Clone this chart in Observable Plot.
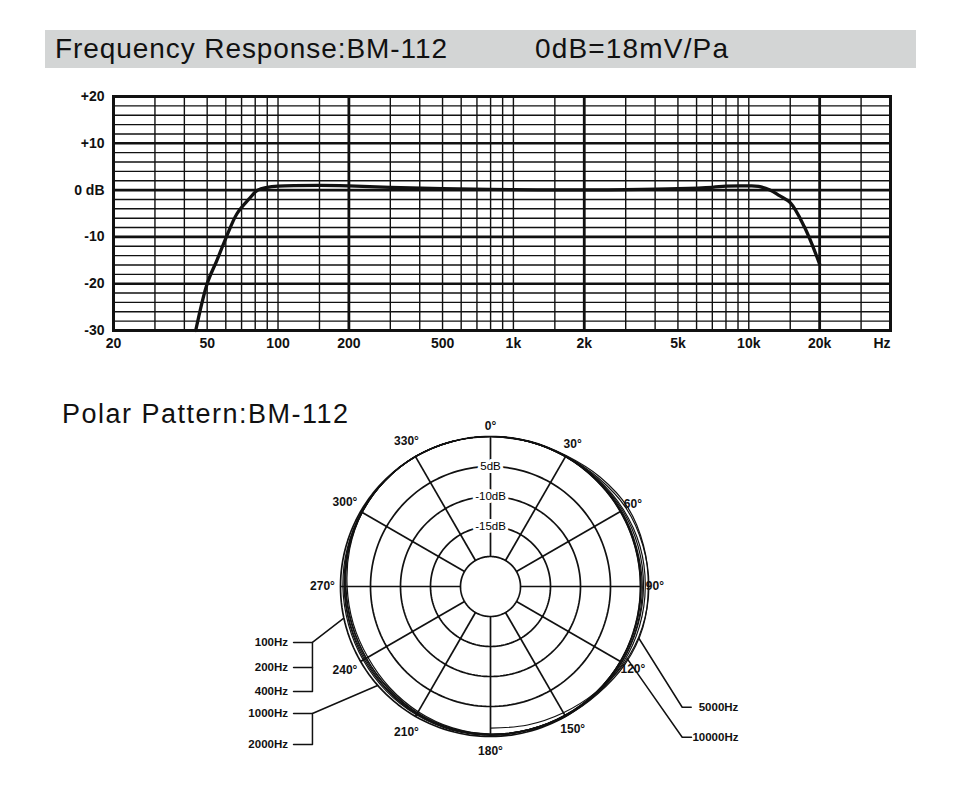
<!DOCTYPE html>
<html><head><meta charset="utf-8">
<script src="https://cdn.jsdelivr.net/npm/d3@7"></script>
<script src="https://cdn.jsdelivr.net/npm/@observablehq/plot@0.6"></script>
<style>
body{margin:0;background:#fff;width:964px;height:789px;position:relative;overflow:hidden;font-family:"Liberation Sans",Arial,sans-serif;}
#bar{position:absolute;left:45px;top:30px;width:871px;height:38px;background:#d3d5d5;}
.title{position:absolute;white-space:nowrap;font-size:28px;line-height:28px;color:#111;z-index:5;}
#freq{position:absolute;left:0;top:80px;width:964px;height:280px;}
#polar{position:absolute;left:200px;top:400px;width:560px;height:370px;}
</style>
</head><body>
<div id="bar"></div>
<div id="freq"></div>
<div id="polar"></div>
<div class="title" style="left:55px;top:35px" data-w="392">Frequency Response:BM-112</div>
<div class="title" style="left:535px;top:35px" data-w="193">0dB=18mV/Pa</div>
<div class="title" style="left:62px;top:400px;font-size:27px" data-w="286">Polar Pattern:BM-112</div>
<script>
// ---------- Frequency response data ----------
const responseHz = [44.7, 50, 55, 60, 67, 75, 82, 90, 100, 150, 200, 300, 500, 1000, 2000, 3000, 5000, 7000, 8000, 10000, 11000, 12300, 13500, 15000, 17200, 20000];
const responseDb = [-30, -20, -15, -10.3, -5, -2, 0, 0.6, 0.85, 1.0, 0.9, 0.6, 0.3, 0.1, 0.05, 0.1, 0.3, 0.6, 0.85, 0.9, 0.8, 0, -1.2, -2.7, -7.8, -15.8];

const xTicks = [20, 50, 100, 200, 500, 1000, 2000, 5000, 10000, 20000];
const xTickLabels = ["20", "50", "100", "200", "500", "1k", "2k", "5k", "10k", "20k"];
const yTicks = [-30, -20, -10, 0, 10, 20];
const yTickLabels = ["-30", "-20", "-10", "0 dB", "+10", "+20"];
const freqGridMinor = [30, 40, 50, 60, 70, 80, 90, 100, 150, 300, 400, 500, 600, 700, 800, 900, 1000, 1500, 3000, 4000, 5000, 6000, 7000, 8000, 9000, 10000, 15000, 30000];
const freqGridMajor = [200, 2000, 20000];
const dbGridMinor = [-28, -26, -24, -22, -18, -16, -14, -12, -8, -6, -4, -2, 2, 4, 6, 8, 12, 14, 16, 18];
const dbGridMajor = [-20, -10, 0, 10];

// ---------- Polar pattern data ----------
const polarAngles = [0, 15, 30, 45, 60, 75, 90, 105, 120, 135, 150, 165, 180, 195, 210, 225, 240, 255, 270, 285, 300, 315, 330, 345];
const polar100Hz  = [0, 0, 0, 0, 0, 0, 0, 0, 0, -0.1, -0.2, -0.2, -0.2, -0.2, -0.3, -0.4, -0.5, -0.5, -0.4, -0.3, -0.2, -0.1, 0, 0];
const polar200Hz  = [0, 0, 0, 0, 0.1, 0.1, 0.1, 0.1, 0, -0.1, -0.2, -0.3, -0.3, -0.3, -0.4, -0.6, -0.7, -0.7, -0.6, -0.4, -0.2, -0.1, 0, 0];
const polar400Hz  = [0, 0, 0, 0.1, 0.2, 0.2, 0.3, 0.3, 0.2, 0, -0.2, -0.3, -0.3, -0.4, -0.5, -0.7, -0.9, -0.8, -0.7, -0.5, -0.3, -0.1, 0, 0];
const polar1000Hz = [0, 0, 0, 0.2, 0.4, 0.5, 0.5, 0.4, 0.3, 0.1, -0.1, -0.3, -0.4, -0.5, -0.7, -1.0, -1.1, -1.1, -0.9, -0.6, -0.3, -0.1, 0, 0];
const polar2000Hz = [0, 0, 0.1, 0.3, 0.6, 0.8, 0.8, 0.7, 0.5, 0.2, -0.1, -0.3, -0.4, -0.6, -0.9, -1.2, -1.4, -1.3, -1.1, -0.7, -0.3, -0.1, 0, 0];
const polar5000Hz = [0, 0.1, 0.2, 0.8, 1.4, 1.4, 1.3, 1.3, 0.9, 0.3, 0, -0.2, -0.3, -0.4, -0.6, -0.9, -1.1, -1.0, -0.8, -0.5, -0.2, -0.1, 0, 0];
const halfAngles  = [0, 15, 30, 45, 60, 75, 90, 105, 120, 135, 150, 165, 180];
const polar10000Hz = [0, 0, 0.1, 0.5, 1.1, 1.3, 1.4, 1.2, 0.7, -0.1, -0.7, -1.1, -1.4];

const ringLevels = [0, -5, -10, -15, -20];
const ringLabels = ["5dB", "-10dB", "-15dB"];
const ringLabelLevels = [-5, -10, -15];
const spokeAngles = [0, 30, 60, 90, 120, 150, 180, 210, 240, 270, 300, 330];
const angleLabels = ["0°", "30°", "60°", "90°", "120°", "150°", "180°", "210°", "240°", "270°", "300°", "330°"];
const legendLeft = ["100Hz", "200Hz", "400Hz", "1000Hz", "2000Hz"];
const legendRight = ["5000Hz", "10000Hz"];

// ---------- Frequency response chart ----------
const FONT = '"Liberation Sans", Arial, sans-serif';
const response = responseHz.map((f, i) => ({f, db: responseDb[i]}));
const freqChart = Plot.plot({
  width: 964, height: 280,
  marginLeft: 113, marginRight: 74, marginTop: 16, marginBottom: 30,
  style: {fontFamily: FONT, fontSize: "14px", fontWeight: "bold", color: "#111", background: "transparent", overflow: "visible"},
  x: {type: "log", domain: [20, 40000], axis: null},
  y: {domain: [-30, 20]},
  marks: [
    Plot.ruleY(dbGridMinor, {stroke: "#111", strokeWidth: 1.4}),
    Plot.ruleY(dbGridMajor, {stroke: "#111", strokeWidth: 2.6}),
    Plot.ruleX(freqGridMinor, {stroke: "#111", strokeWidth: 1.4}),
    Plot.ruleX(freqGridMajor, {stroke: "#111", strokeWidth: 2.8}),
    Plot.line(response, {x: "f", y: "db", stroke: "#111", strokeWidth: 3.3, curve: "catmull-rom"}),
    Plot.frame({stroke: "#111", strokeWidth: 3}),
    Plot.text(xTicks, {x: d => d, text: (d, i) => xTickLabels[i], frameAnchor: "bottom", lineAnchor: "middle", dy: 13, fontSize: 14, fontWeight: "bold", fill: "#111"}),
    Plot.axisY({ticks: yTicks, tickFormat: d => yTickLabels[yTicks.indexOf(d)], tickSize: 0, tickPadding: 9, label: null}),
    Plot.text(["Hz"], {frameAnchor: "bottom-right", textAnchor: "end", lineAnchor: "middle", dy: 13, fontSize: 14, fontWeight: "bold", fill: "#111"})
  ]
});
document.getElementById("freq").appendChild(freqChart);

// ---------- Polar chart ----------
const PW = 560, PH = 370, CX = 290, CY = 186, R = 150;
const rad = db => (db + 25) / 25;
const toXY = (angle, db) => ({x: rad(db) * Math.sin(angle * Math.PI / 180), y: rad(db) * Math.cos(angle * Math.PI / 180)});

const rings = ringLevels.flatMap(lv => d3.range(0, 361, 2).map(a => ({ring: lv, ...toXY(a, lv)})));
const spokes = spokeAngles.map(a => {
  const p1 = toXY(a, -20), p2 = toXY(a, 0);
  return {x1: p1.x, y1: p1.y, x2: p2.x, y2: p2.y};
});
const closedSeries = [
  ["100Hz", polar100Hz], ["200Hz", polar200Hz], ["400Hz", polar400Hz],
  ["1000Hz", polar1000Hz], ["2000Hz", polar2000Hz], ["5000Hz", polar5000Hz]
];
const closedPts = closedSeries.flatMap(([name, vals]) => polarAngles.map((a, i) => ({name, ...toXY(a, vals[i])})));
const openPts = halfAngles.map((a, i) => ({name: "10000Hz", ...toXY(a, polar10000Hz[i])}));
// label ring: a little further out on the left half, tighter at the top
const angleText = spokeAngles.map((a, i) => {
  const off = a === 0 ? 1.8 : (a > 180 ? 3.0 : 2.4);
  const p = toXY(a, off);
  return {...p, label: angleLabels[i]};
});
const ringText = ringLabelLevels.map((lv, i) => ({x: 0, y: rad(lv), label: ringLabels[i]}));

// leader lines (annotation layout, in polar units: 1 = 0 dB radius)
const leaders = [
  {g: "a", pts: [[-0.98, -0.213], [-1.187, -0.373], [-1.187, -0.70], [-1.313, -0.70]]},
  {g: "a1", pts: [[-1.313, -0.373], [-1.187, -0.373]]},
  {g: "a2", pts: [[-1.313, -0.54], [-1.187, -0.54]]},
  {g: "b", pts: [[-0.753, -0.66], [-1.187, -0.847], [-1.187, -1.053], [-1.313, -1.053]]},
  {g: "b1", pts: [[-1.313, -0.847], [-1.187, -0.847]]},
  {g: "c", pts: [[0.989, -0.345], [1.278, -0.805], [1.338, -0.805]]},
  {g: "d", pts: [[0.911, -0.481], [1.278, -1.005], [1.34, -1.005]]}
].flatMap(l => l.pts.map(([x, y]) => ({g: l.g, x, y})));
const legendLeftPos = [-0.373, -0.54, -0.70, -0.847, -1.053];
const legendRightPos = [-0.805, -1.005];
const legendRightX = [1.388, 1.346];
const leftText = legendLeft.map((t, i) => ({x: -1.35, y: legendLeftPos[i], label: t}));
const rightText = legendRight.map((t, i) => ({x: legendRightX[i], y: legendRightPos[i], label: t}));

const polarChart = Plot.plot({
  width: PW, height: PH, margin: 0,
  style: {fontFamily: FONT, background: "transparent", overflow: "visible", color: "#111"},
  x: {domain: [-CX / R, (PW - CX) / R], axis: null},
  y: {domain: [-(PH - CY) / R, CY / R], axis: null},
  marks: [
    Plot.line(rings, {x: "x", y: "y", z: "ring", stroke: "#111", strokeWidth: 1.7}),
    Plot.link(spokes, {x1: "x1", y1: "y1", x2: "x2", y2: "y2", stroke: "#111", strokeWidth: 1.7}),
    Plot.line(closedPts, {x: "x", y: "y", z: "name", stroke: "#111", strokeWidth: 1.2, curve: "catmull-rom-closed"}),
    Plot.line(openPts, {x: "x", y: "y", stroke: "#111", strokeWidth: 1.2, curve: "catmull-rom"}),
    Plot.text(ringText, {x: "x", y: "y", text: "label", fontSize: 11.5, fill: "black", stroke: "white", strokeWidth: 6, paintOrder: "stroke"}),
    Plot.text(angleText, {x: "x", y: "y", text: "label", fontSize: 12, fontWeight: "bold", fill: "#111"}),
    Plot.line(leaders, {x: "x", y: "y", z: "g", stroke: "#111", strokeWidth: 1.5}),
    Plot.text(leftText, {x: "x", y: "y", text: "label", textAnchor: "end", fontSize: 11.5, fontWeight: "bold", fill: "#111"}),
    Plot.text(rightText, {x: "x", y: "y", text: "label", textAnchor: "start", fontSize: 11.5, fontWeight: "bold", fill: "#111"})
  ]
});
document.getElementById("polar").appendChild(polarChart);

// fit title widths
document.querySelectorAll(".title").forEach(el => {
  const target = +el.dataset.w;
  const n = el.textContent.length;
  const w = el.getBoundingClientRect().width;
  el.style.letterSpacing = ((target - w) / (n - 1)) + "px";
});
</script>
</body></html>
